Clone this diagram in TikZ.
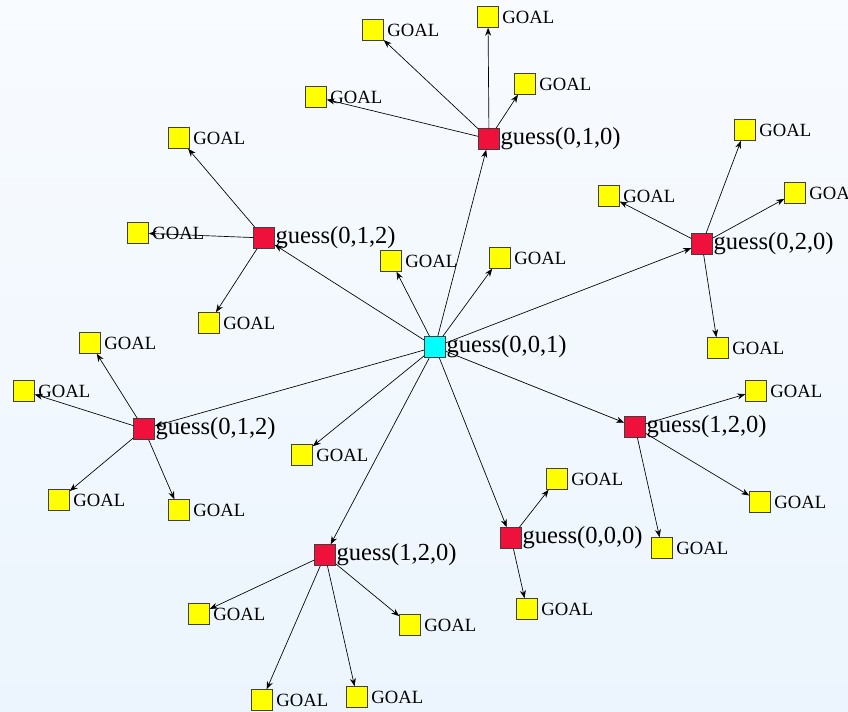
\documentclass[tikz,border=0pt]{standalone}
\usepackage{fontspec}
\setmainfont{Liberation Serif}
\usetikzlibrary{arrows.meta,shapes.geometric}
\definecolor{RootCyan}{HTML}{00FFFF}
\definecolor{GuessRed}{HTML}{F0103C}
\definecolor{GoalYellow}{HTML}{FFFF00}
\definecolor{BoxEdge}{HTML}{404040}
\definecolor{BgTop}{HTML}{F8FBFF}
\definecolor{BgBottom}{HTML}{ECF5FD}

\tikzset{
  box/.style={draw=BoxEdge,line width=0.6pt,minimum size=15.5pt,inner sep=0pt},
  rootbox/.style={box,fill=RootCyan,label={[font=\fontsize{18.4}{20}\selectfont,inner sep=0pt,xshift=0.5pt]right:#1}},
  guessbox/.style={box,fill=GuessRed,label={[font=\fontsize{18.4}{20}\selectfont,inner sep=0pt,xshift=0.5pt]right:#1}},
  goalbox/.style={box,fill=GoalYellow,label={[font=\fontsize{14}{16}\selectfont,inner sep=0pt,xshift=2.5pt]right:GOAL}},
  edge/.style={-{Stealth[length=6pt,width=4.5pt]},line width=0.5pt,black}
}

\begin{document}
\begin{tikzpicture}[x=0.75pt,y=-0.75pt]
  \shade[top color=BgTop,bottom color=BgBottom] (0,0) rectangle (848,712);
  \useasboundingbox (0,0) rectangle (848,712);

  % centre
  \node[rootbox={guess(0,0,1)}] (root) at (435,347) {};

  % second level
  \node[guessbox={guess(0,1,0)}] (g010) at (489,139) {};
  \node[guessbox={guess(0,1,2)}] (g012a) at (264,238) {};
  \node[guessbox={guess(0,2,0)}] (g020) at (702,244) {};
  \node[guessbox={guess(0,1,2)}] (g012b) at (144,429) {};
  \node[guessbox={guess(1,2,0)}] (g120a) at (635,427) {};
  \node[guessbox={guess(0,0,0)}] (g000) at (511,538) {};
  \node[guessbox={guess(1,2,0)}] (g120b) at (325,555) {};

  % goals of the centre
  \node[goalbox] (r1) at (391,261) {};
  \node[goalbox] (r2) at (500,258) {};
  \node[goalbox] (r3) at (302,455) {};

  % goals of guess(0,1,0)
  \node[goalbox] (a1) at (373,30) {};
  \node[goalbox] (a2) at (488,17) {};
  \node[goalbox] (a3) at (525,84) {};
  \node[goalbox] (a4) at (316,97) {};

  % goals of the upper guess(0,1,2)
  \node[goalbox] (b1) at (179,138) {};
  \node[goalbox] (b2) at (138,233) {};
  \node[goalbox] (b3) at (209,323) {};

  % goals of guess(0,2,0)
  \node[goalbox] (c1) at (745,130) {};
  \node[goalbox] (c2) at (609,196) {};
  \node[goalbox] (c3) at (795,193) {};
  \node[goalbox] (c4) at (718,348) {};

  % goals of the lower guess(0,1,2)
  \node[goalbox] (d1) at (90,343) {};
  \node[goalbox] (d2) at (24,391) {};
  \node[goalbox] (d3) at (59,500) {};
  \node[goalbox] (d4) at (179,510) {};

  % goals of the right guess(1,2,0)
  \node[goalbox] (e1) at (756,391) {};
  \node[goalbox] (e2) at (760,502) {};
  \node[goalbox] (e3) at (662,548) {};

  % goals of guess(0,0,0)
  \node[goalbox] (f1) at (557,479) {};
  \node[goalbox] (f2) at (527,609) {};

  % goals of the lower guess(1,2,0)
  \node[goalbox] (h1) at (199,614) {};
  \node[goalbox] (h2) at (410,625) {};
  \node[goalbox] (h3) at (262,700) {};
  \node[goalbox] (h4) at (357,697) {};

  % edges
  \foreach \t in {g010,g012a,g020,g012b,g120a,g000,g120b,r1,r2,r3}
    \draw[edge] (root) -- (\t);
  \foreach \t in {a1,a2,a3,a4}
    \draw[edge] (g010) -- (\t);
  \foreach \t in {b1,b2,b3}
    \draw[edge] (g012a) -- (\t);
  \foreach \t in {c1,c2,c3,c4}
    \draw[edge] (g020) -- (\t);
  \foreach \t in {d1,d2,d3,d4}
    \draw[edge] (g012b) -- (\t);
  \foreach \t in {e1,e2,e3}
    \draw[edge] (g120a) -- (\t);
  \foreach \t in {f1,f2}
    \draw[edge] (g000) -- (\t);
  \foreach \t in {h1,h2,h3,h4}
    \draw[edge] (g120b) -- (\t);
\end{tikzpicture}
\end{document}
